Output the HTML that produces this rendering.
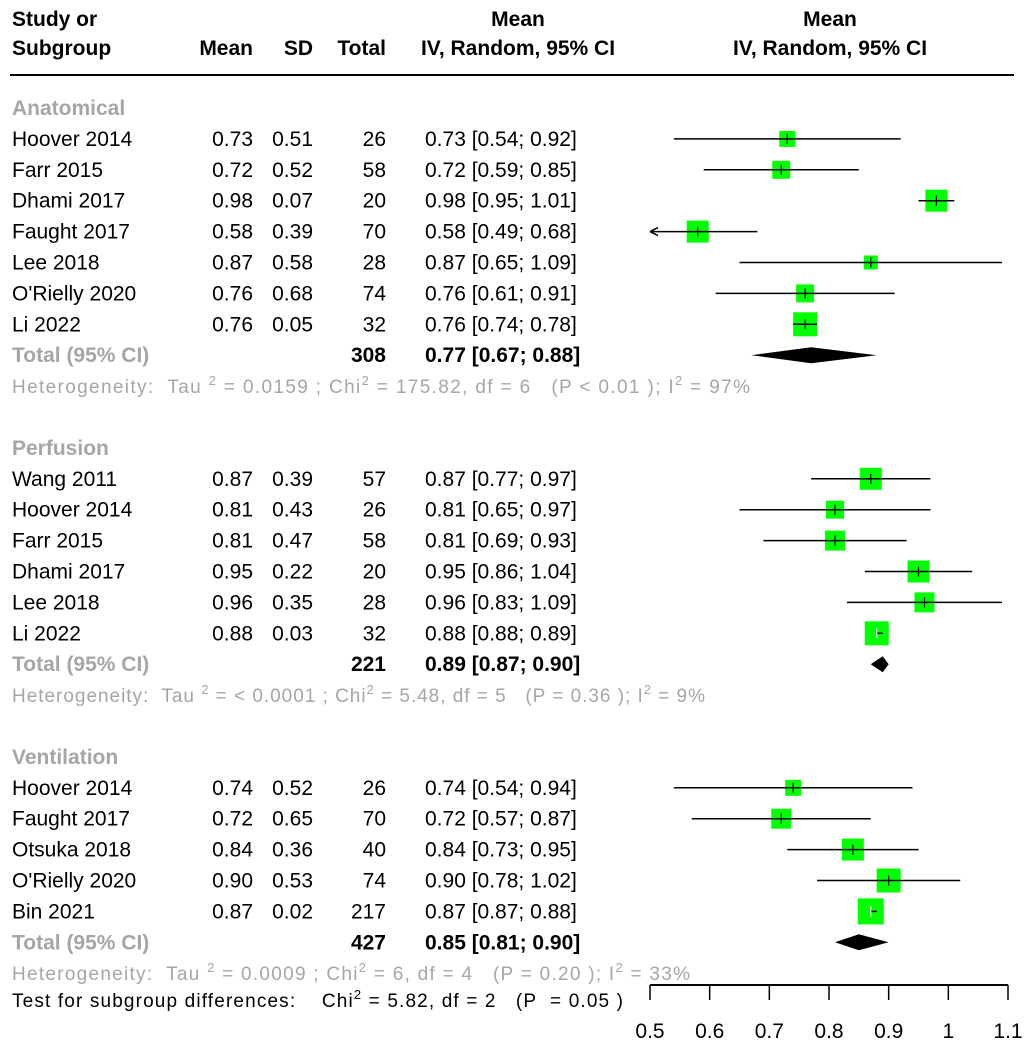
<!DOCTYPE html>
<html><head><meta charset="utf-8"><style>
body{margin:0;background:#fff}
svg text{font-family:"Liberation Sans",sans-serif;font-size:21px}
.b{font-weight:bold}.g{fill:#a6a6a6}
</style></head><body>
<svg id="c" width="1034" height="1050" xmlns="http://www.w3.org/2000/svg">
<g>
<text x="12" y="26" class="b">Study or</text>
<text x="12" y="55" class="b">Subgroup</text>
<text x="253" y="55" class="b" text-anchor="end">Mean</text>
<text x="313" y="55" class="b" text-anchor="end">SD</text>
<text x="386" y="55" class="b" text-anchor="end">Total</text>
<text x="518" y="26" class="b" text-anchor="middle">Mean</text>
<text x="518" y="55" class="b" text-anchor="middle">IV, Random, 95% CI</text>
<text x="830" y="26" class="b" text-anchor="middle">Mean</text>
<text x="830" y="55" class="b" text-anchor="middle">IV, Random, 95% CI</text>
<line x1="10" y1="75" x2="1014" y2="75" stroke="#000" stroke-width="2"/>
</g>
<g id="rows"></g>
<text x="12" y="1007" textLength="611" lengthAdjust="spacing" style="font-size:19px">Test for subgroup differences:&#160;&#160;&#160; Chi<tspan dy="-8" font-size="13">2</tspan><tspan dy="8"> = 5.82, df = 2&#160;&#160; (P&#160; = 0.05 )</tspan></text>
<g id="axis"></g>
</svg>
<script>
const groups=["Anatomical","Perfusion","Ventilation"];
const studies=[
["Hoover 2014","Farr 2015","Dhami 2017","Faught 2017","Lee 2018","O'Rielly 2020","Li 2022"],
["Wang 2011","Hoover 2014","Farr 2015","Dhami 2017","Lee 2018","Li 2022"],
["Hoover 2014","Faught 2017","Otsuka 2018","O'Rielly 2020","Bin 2021"]];
const means=[[0.73,0.72,0.98,0.58,0.87,0.76,0.76],[0.87,0.81,0.81,0.95,0.96,0.88],[0.74,0.72,0.84,0.90,0.87]];
const sds=[[0.51,0.52,0.07,0.39,0.58,0.68,0.05],[0.39,0.43,0.47,0.22,0.35,0.03],[0.52,0.65,0.36,0.53,0.02]];
const totals=[[26,58,20,70,28,74,32],[57,26,58,20,28,32],[26,70,40,74,217]];
const lowers=[[0.54,0.59,0.95,0.49,0.65,0.61,0.74],[0.77,0.65,0.69,0.86,0.83,0.88],[0.54,0.57,0.73,0.78,0.87]];
const uppers=[[0.92,0.85,1.01,0.68,1.09,0.91,0.78],[0.97,0.97,0.93,1.04,1.09,0.89],[0.94,0.87,0.95,1.02,0.88]];
const weights=[[8,9,11,11,7,9,12],[11,9,10,11,10,12],[8,10,11,12,13]];
const pooledN=[308,221,427];
const pooled=[0.77,0.89,0.85];
const pooledLo=[0.67,0.87,0.81];
const pooledHi=[0.88,0.90,0.90];
const hets=[["0.0159","175.82","6","< 0.01","97%"],["< 0.0001","5.48","5","= 0.36","9%"],["0.0009","6","4","= 0.20","33%"]];
const hetLen=[738,693,678];
const ticks=[0.5,0.6,0.7,0.8,0.9,1,1.1];
const X0=0.5,X1=1.1,PX0=650,PX1=1008;
const sx=v=>PX0+(v-X0)*(PX1-PX0)/(X1-X0);
const NS="http://www.w3.org/2000/svg";
function mk(tag,at,par,txt){const e=document.createElementNS(NS,tag);for(const k in at)e.setAttribute(k,at[k]);if(txt!=null)e.textContent=txt;par.appendChild(e);return e;}
const R=document.getElementById('rows');
const f2=v=>v.toFixed(2);
let y=108;const RH=30.9;
groups.forEach((g,gi)=>{
 const t=mk('text',{x:12,y:y+7,class:'b g'},R,g);
 
 
 y+=RH;
 studies[gi].forEach((s,i)=>{
  const row=mk('g',{},R);
  
  
  mk('text',{x:12,y:y+7},row,s);
  mk('text',{x:253,y:y+7,'text-anchor':'end'},row,f2(means[gi][i]));
  mk('text',{x:313,y:y+7,'text-anchor':'end'},row,f2(sds[gi][i]));
  mk('text',{x:386,y:y+7,'text-anchor':'end'},row,totals[gi][i]);
  mk('text',{x:425,y:y+7},row,f2(means[gi][i])+' ['+f2(lowers[gi][i])+'; '+f2(uppers[gi][i])+']');
  const w=weights[gi][i],cx=sx(means[gi][i]);
  const sq=mk('rect',{x:cx-w,y:y-w,width:2*w,height:2*w,fill:'#00ff00'},row);
  
  
  const lo=Math.max(lowers[gi][i],X0),hi=Math.min(uppers[gi][i],X1);
  const ln=mk('line',{x1:sx(lo),y1:y,x2:sx(hi),y2:y,stroke:'#000','stroke-width':1.5},row);
  
  
  if(lowers[gi][i]<X0){mk('path',{d:`M${sx(X0)} ${y} l8 -4 M${sx(X0)} ${y} l8 4`,stroke:'#000','stroke-width':1.5,fill:'none'},row);}
  const tc=(gi==1&&i==5)||(gi==2&&i==4)?'#fff':'#000';
  mk('line',{x1:cx,y1:y-5,x2:cx,y2:y+5,stroke:tc,'stroke-width':1.2},row);
  y+=RH;
 });
 const tr=mk('g',{},R);
 
 
 mk('text',{x:12,y:y+7,class:'b g'},tr,'Total (95% CI)');
 mk('text',{x:386,y:y+7,class:'b','text-anchor':'end'},tr,pooledN[gi]);
 mk('text',{x:425,y:y+7,class:'b'},tr,f2(pooled[gi])+' ['+f2(pooledLo[gi])+'; '+f2(pooledHi[gi])+']');
 const d=mk('path',{d:`M${sx(pooledLo[gi])} ${y} L${sx(pooled[gi])} ${y-8} L${sx(pooledHi[gi])} ${y} L${sx(pooled[gi])} ${y+8}Z`,fill:'#000'},tr);
 
 
 y+=RH;
 const h=hets[gi];
 const ht=mk('text',{x:12,y:y+7,class:'g',style:'font-size:19px',textLength:hetLen[gi],lengthAdjust:'spacing'},R);
 
 
 ht.innerHTML=`Heterogeneity:&#160; Tau <tspan dy="-8" font-size="13">2</tspan><tspan dy="8"> = ${h[0]} ; Chi</tspan><tspan dy="-8" font-size="13">2</tspan><tspan dy="8"> = ${h[1]}, df = ${h[2]}&#160;&#160; (P ${h[3]} ); I</tspan><tspan dy="-8" font-size="13">2</tspan><tspan dy="8"> = ${h[4]}</tspan>`;
 y+=RH*2;
});
const A=document.getElementById('axis');
mk('line',{x1:PX0,y1:985,x2:PX1,y2:985,stroke:'#000','stroke-width':2},A);
ticks.forEach(t=>{
 mk('line',{x1:sx(t),y1:985,x2:sx(t),y2:1000,stroke:'#000','stroke-width':1.5},A);
 const l=mk('text',{x:sx(t),y:1038,'text-anchor':'middle'},A,String(t));
 
 
});
</script>
</body></html>
